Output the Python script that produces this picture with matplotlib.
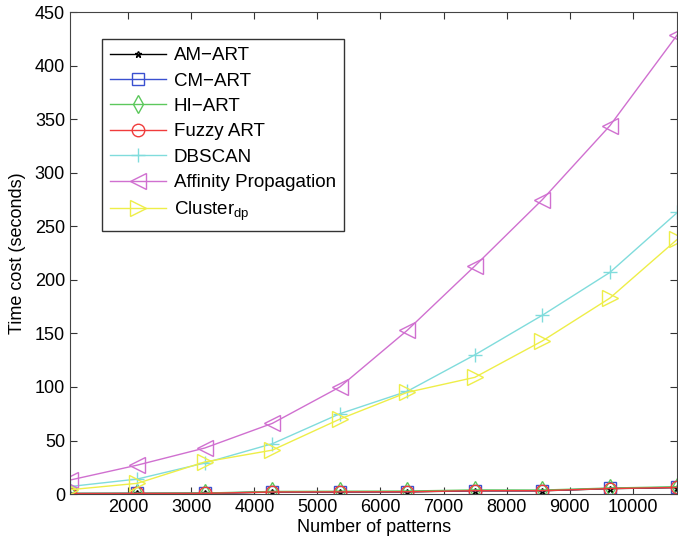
import numpy as np
from matplotlib import pyplot as plt

plt.rcParams['font.family'] = ['Liberation Sans', 'DejaVu Sans']
plt.rcParams['mathtext.fontset'] = 'custom'
plt.rcParams['mathtext.rm'] = 'Liberation Sans'
plt.rcParams['mathtext.it'] = 'Liberation Sans'

## DATA
patterns = [1071, 2142, 3213, 4284, 5355, 6426, 7497, 8568, 9639, 10710]
amArt = [0.4, 0.5, 0.6, 1.8, 1.9, 2.0, 3.0, 3.0, 5.0, 6.0]
cmArt = [0.5, 0.6, 0.7, 2.0, 2.1, 2.2, 3.2, 3.2, 5.3, 6.3]
hiArt = [0.6, 0.7, 0.9, 2.4, 2.6, 2.8, 3.8, 3.7, 5.6, 6.8]
fuzzyArt = [0.4, 0.5, 0.6, 1.9, 2.0, 2.1, 3.1, 3.1, 5.1, 6.1]
dbscan = [7, 14, 29, 47, 75, 96, 130, 167, 207, 263]
affinity = [13, 27, 43, 66, 100, 153, 213, 275, 344, 429]
clusterDp = [4, 10, 30, 41, 70, 95, 109, 143, 183, 238]

labels = ['AM\u2212ART', 'CM\u2212ART', 'HI\u2212ART', 'Fuzzy ART', 'DBSCAN',
		  'Affinity Propagation', r'Cluster$_\mathrm{dp}$']
series = [amArt, cmArt, hiArt, fuzzyArt, dbscan, affinity, clusterDp]
colors = ['#000000', '#3a50d0', '#5cc85c', '#f03c3c', '#80dcdc', '#d070d0', '#eeee48']
markers = ['*', 's', 'd', 'o', '+', '<', '>']
msizes = [5, 9, 9, 9, 10, 11, 11]

fig = plt.figure(figsize=(6.78, 5.48), dpi=100)
ax = fig.add_axes([0.103, 0.0985, 0.896, 0.879])

for vals, lab, c, m, ms in zip(series, labels, colors, markers, msizes):
	ax.plot(patterns, vals, color=c, marker=m, markersize=ms, markerfacecolor='none',
			markeredgecolor=c, linewidth=1.0, label=lab)

ax.set_xlim(patterns[0], patterns[-1])
ax.set_ylim(0, 450)
ax.set_xticks([2000, 3000, 4000, 5000, 6000, 7000, 8000, 9000, 10000])
ax.set_yticks(np.arange(0, 451, 50))
ax.tick_params(direction='in', top=True, right=True, labelsize=13, length=5, color='#333333')
for sp in ax.spines.values():
	sp.set_color('#444444')
ax.set_xlabel('Number of patterns', fontsize=13, labelpad=2)
ax.set_ylabel('Time cost (seconds)', fontsize=13, labelpad=6)

leg = ax.legend(loc='upper left', bbox_to_anchor=(0.053, 0.944), borderaxespad=0,
				fontsize=13.5, handlelength=3.0, labelspacing=0.44, borderpad=0.42,
				handletextpad=0.4, fancybox=False, framealpha=1, edgecolor='#333333')
leg.get_frame().set_linewidth(1.0)

plt.savefig('out.png', dpi=100)
